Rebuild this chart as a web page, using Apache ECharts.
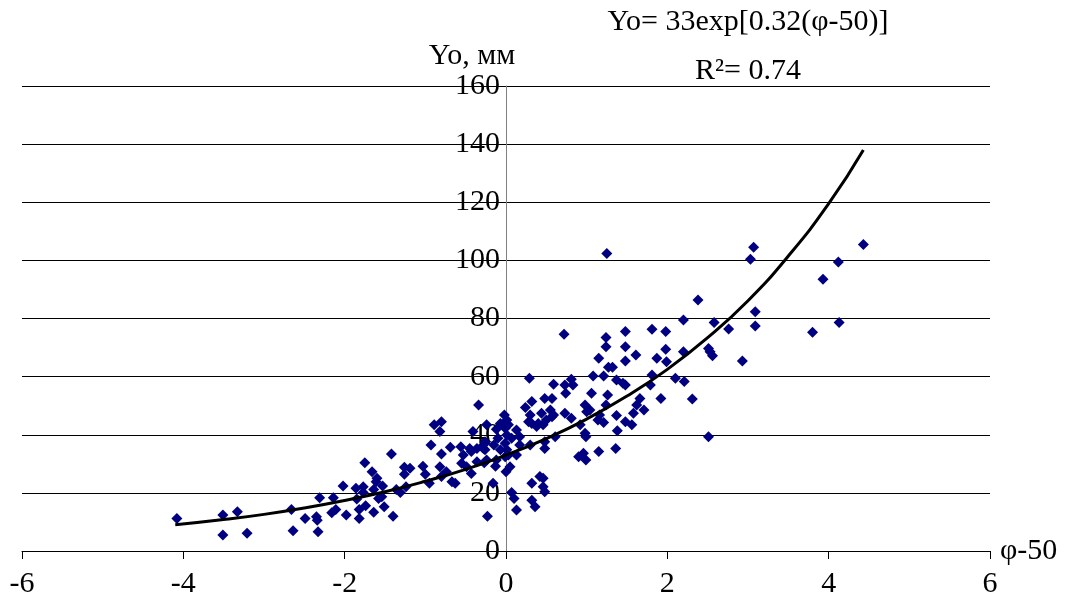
<!DOCTYPE html>
<html>
<head>
<meta charset="utf-8">
<title>Yo vs φ-50</title>
<script src="https://cdn.jsdelivr.net/npm/echarts@6/dist/echarts.min.js"></script>
<style>
    html, body {margin: 0; padding: 0; background: #fff;}
    #chart {width: 1066px; height: 609px;}
</style>
</head>
<body>
<div id="chart"></div>
<script>
// axis ticks
var xTicks = [-6, -4, -2, 0, 2, 4, 6];
var yTicks = [0, 20, 40, 60, 80, 100, 120, 140, 160];

// measured points: [φ-50, Yo]
var pointsLeft = [
    [-4.08, 11.2], [-3.51, 12.4], [-3.51, 5.5], [-3.33, 13.5], [-3.21, 6.1],
    [-2.66, 14.3], [-2.64, 7.0], [-2.49, 11.2], [-2.35, 11.8], [-2.34, 10.6],
    [-2.33, 6.6], [-2.31, 18.3], [-2.14, 18.3], [-2.16, 13.2], [-2.11, 14.3],
    [-2.02, 22.4], [-1.98, 12.4], [-1.86, 21.6], [-1.85, 17.9], [-1.82, 14.3],
    [-1.82, 11.2], [-1.77, 22.1], [-1.77, 20.1], [-1.75, 30.4], [-1.74, 15.6],
    [-1.66, 27.3], [-1.64, 13.3], [-1.60, 25.0], [-1.64, 21.2], [-1.53, 22.4],
    [-1.54, 18.7], [-1.51, 15.2], [-1.58, 18.1], [-1.61, 23.8], [-1.40, 12.0],
    [-1.42, 33.4], [-1.36, 21.2], [-1.31, 20.1], [-1.26, 28.8], [-1.26, 26.4],
    [-1.19, 28.5], [-1.24, 22.1], [-1.03, 29.2], [-1.00, 26.4], [-0.95, 23.3]
];
var pointsMiddle = [
    [-0.93, 36.5], [-0.80, 33.4], [-0.80, 25.6], [-0.74, 27.3], [-0.82, 29.0],
    [-0.69, 35.7], [-0.67, 23.8], [-0.63, 23.3], [-0.56, 35.9], [-0.53, 33.0],
    [-0.55, 30.2], [-0.49, 29.0], [-0.43, 26.7], [-0.43, 34.2], [-0.45, 35.3],
    [-0.36, 30.7], [-0.30, 35.9], [-0.26, 37.6], [-0.27, 30.4], [-0.26, 34.8],
    [-0.24, 31.3], [-0.16, 23.3], [-0.23, 12.0], [-0.13, 29.2], [-0.15, 36.5],
    [-0.12, 31.3], [-0.07, 34.8], [-0.01, 37.1], [0.01, 34.8], [0.00, 27.3],
    [0.05, 29.0], [-0.01, 32.4], [0.03, 33.0], [0.13, 33.0], [0.17, 36.5],
    [0.30, 36.5], [0.07, 20.1], [0.10, 18.1], [0.13, 14.1],
    [-0.89, 43.4], [-0.80, 44.5], [-0.82, 41.1], [-0.34, 50.2], [-0.24, 43.4],
    [-0.41, 41.1], [-0.26, 37.1], [-0.28, 35.3], [-0.36, 35.3], [-0.10, 38.8],
    [-0.02, 46.8], [-0.07, 43.9], [-0.12, 41.9], [-0.01, 42.2], [0.01, 45.1],
    [0.03, 43.4], [0.13, 41.6], [0.17, 39.3], [0.07, 38.8], [0.01, 39.9],
    [0.24, 49.4], [0.32, 51.4], [0.29, 59.4], [0.30, 46.8], [0.32, 43.9],
    [0.28, 44.5], [0.40, 43.9], [0.38, 42.8], [0.44, 47.4], [0.55, 48.5],
    [0.57, 46.2], [0.50, 45.1], [0.46, 43.4], [0.59, 46.8], [0.48, 52.5],
    [0.57, 52.5], [0.59, 57.4], [0.48, 37.6], [0.48, 35.3], [0.61, 39.3],
    [0.32, 23.3], [0.46, 25.0], [0.42, 25.6], [0.48, 20.4], [0.46, 22.1],
    [0.32, 17.5], [0.36, 15.2]
];
var pointsRight = [
    [0.72, 74.6], [0.73, 57.1], [0.81, 59.1], [0.83, 57.1], [0.74, 54.3],
    [0.73, 47.4], [0.81, 45.7], [0.92, 43.4], [0.98, 40.5], [0.99, 39.3],
    [0.90, 32.4], [0.96, 33.6], [0.99, 31.3], [1.15, 34.2], [1.36, 35.3],
    [1.38, 41.4], [1.37, 46.6], [1.16, 46.8], [1.21, 44.2], [1.14, 45.1],
    [1.06, 54.3], [0.98, 50.2], [1.00, 47.9], [1.04, 48.5], [1.08, 60.2],
    [1.21, 60.2], [1.15, 66.3], [1.27, 63.2], [1.32, 63.2], [1.24, 73.5],
    [1.24, 70.3], [1.26, 53.7], [1.24, 50.2], [1.37, 58.8], [1.45, 57.7],
    [1.48, 57.1], [1.48, 75.5], [1.48, 70.3], [1.48, 65.4], [1.61, 67.4],
    [1.58, 47.4], [1.48, 44.5], [1.56, 43.4], [1.62, 50.2], [1.66, 52.5],
    [1.71, 48.5], [1.81, 76.3], [1.87, 66.3], [1.81, 60.6], [1.79, 57.1],
    [1.92, 52.5], [1.98, 75.5], [1.98, 69.4], [1.99, 65.1], [1.25, 102.4],
    [2.38, 86.4], [2.20, 79.5], [2.58, 78.6], [2.76, 76.4], [2.20, 68.6],
    [2.51, 69.7], [2.53, 68.6], [2.56, 67.2], [2.93, 65.4], [2.10, 59.4],
    [2.21, 58.3], [2.31, 52.3], [2.51, 39.3], [3.07, 104.5], [3.03, 100.4],
    [3.09, 82.3], [3.09, 77.4], [3.80, 75.3], [3.93, 93.5], [4.12, 99.4],
    [4.13, 78.6], [4.43, 105.5]
];

// trend line
var trendX = [-4.1, -3.5, -3, -2.5, -2, -1.5, -1, -0.5, 0, 0.5, 1, 1.5, 2, 2.5, 3, 3.5, 4, 4.43];
var trendY = [9.0, 10.8, 12.6, 14.8, 17.4, 20.4, 24.0, 28.1, 33.0, 38.7, 45.4, 53.3, 62.5, 73.4, 86.1, 101.5, 119.5, 138.0];

var font = 'Liberation Serif, Times New Roman, serif';
var gridLeft = 22, gridRight = 76;
var plotWidth = 1066 - gridLeft - gridRight;

function trendPairs() {
    var res = [];
    for (var i = 0; i < trendX.length; i++) {
        res.push([trendX[i], trendY[i]]);
    }
    return res;
}

var option = {
    animation: false,
    backgroundColor: '#fff',
    title: {
        text: 'Yo= 33exp[0.32(φ-50)]',
        subtext: 'R²= 0.74',
        left: 743,
        top: 2,
        textAlign: 'center',
        itemGap: 19,
        textStyle: {fontFamily: font, fontSize: 30, fontWeight: 'normal', color: '#000'},
        subtextStyle: {fontFamily: font, fontSize: 30, color: '#000'}
    },
    grid: {left: gridLeft, right: gridRight, top: 86, bottom: 58, outerBoundsMode: 'none'},
    xAxis: {
        type: 'value',
        min: xTicks[0],
        max: xTicks[xTicks.length - 1],
        interval: 2,
        name: 'φ-50',
        nameLocation: 'end',
        nameGap: 10,
        nameTextStyle: {fontFamily: font, fontSize: 30, color: '#000', padding: [10, 0, 0, 0]},
        axisLine: {show: true, onZero: true, lineStyle: {color: '#000', width: 1}},
        axisTick: {show: true, inside: false, length: 8, lineStyle: {color: '#000'}},
        axisLabel: {fontFamily: font, fontSize: 30, color: '#000', margin: 18},
        splitLine: {show: false}
    },
    yAxis: {
        type: 'value',
        position: 'left',
        // move the whole axis (line, ticks, labels) over to φ-50 = 0
        offset: -plotWidth / 2,
        min: yTicks[0],
        max: yTicks[yTicks.length - 1],
        interval: 20,
        name: 'Yo, мм',
        nameLocation: 'end',
        nameGap: 12,
        nameTextStyle: {fontFamily: font, fontSize: 30, color: '#000', align: 'center', padding: [0, 68, 0, 0]},
        axisLine: {show: true, onZero: false, lineStyle: {color: '#808080', width: 1}},
        axisTick: {show: true, length: 5, lineStyle: {color: '#000'}},
        axisLabel: {fontFamily: font, fontSize: 30, color: '#000', margin: 6},
        splitLine: {show: true, lineStyle: {color: '#000', width: 1}}
    },
    series: [
        {
            name: 'Yo',
            type: 'scatter',
            symbol: 'diamond',
            symbolSize: 11,
            itemStyle: {color: '#000080', opacity: 1},
            data: pointsLeft.concat(pointsMiddle, pointsRight),
            z: 2
        },
        {
            name: 'trend',
            type: 'line',
            smooth: true,
            showSymbol: false,
            lineStyle: {color: '#000', width: 3},
            data: trendPairs(),
            z: 3
        }
    ]
};

var chart = echarts.init(document.getElementById('chart'));
chart.setOption(option);
window.addEventListener('resize', chart.resize);
</script>
</body>
</html>
